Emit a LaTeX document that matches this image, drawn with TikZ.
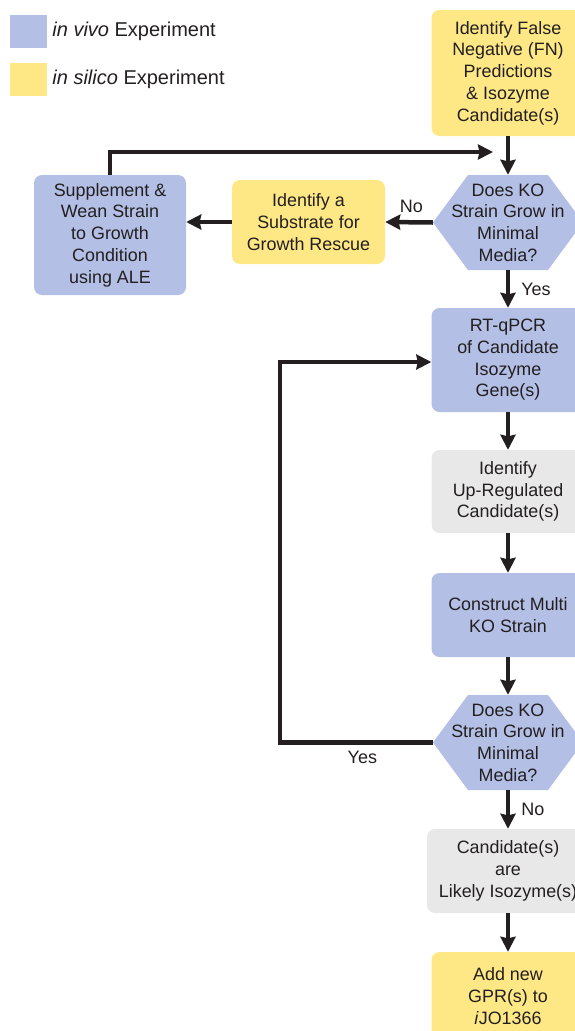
\documentclass[tikz,border=0pt]{standalone}
\usepackage{fontspec}
\setmainfont{Liberation Sans}
\usetikzlibrary{arrows.meta,positioning}

\definecolor{vivoblue}{RGB}{179,191,228}
\definecolor{silicoyellow}{RGB}{254,232,133}
\definecolor{plaingray}{RGB}{232,232,232}
\definecolor{inkgray}{RGB}{35,31,32}

\begin{document}
\begin{tikzpicture}[
      x=1pt, y=-1pt,
      box/.style={rounded corners=8pt, minimum width=153pt, align=center, inner sep=0pt,
                  text=inkgray, font=\fontsize{17.9}{21.7}\selectfont},
      vivo/.style={box, fill=vivoblue},
      silico/.style={box, fill=silicoyellow},
      plain/.style={box, fill=plaingray},
      question/.style={minimum width=150pt, minimum height=95pt, align=center, inner sep=0pt,
                  text=inkgray, font=\fontsize{17.9}{21.7}\selectfont},
      key/.style={minimum width=37pt, minimum height=33pt, inner sep=0pt},
      keytext/.style={inner sep=0pt, text=inkgray, font=\fontsize{20}{24}\selectfont},
      answer/.style={text=inkgray, font=\fontsize{18}{22}\selectfont},
      flow/.style={line width=4.5pt, draw=inkgray, line join=miter,
                   -{Stealth[inset=1.5pt, length=15pt, width=15pt]}}
    ]

    \useasboundingbox (0,0) rectangle (575,1031);
    \clip (0,0) rectangle (575,1031);

    % ---- column positions ----
    \def\xr{508}
    \def\hw{75}
    \def\hh{47.5}
    \def\hc{35}

    % ================= legend =================
    \node[key, fill=vivoblue] (keyvivo) at (28.5,31.5) {};
    \node[key, fill=silicoyellow] (keysilico) at (28.5,79) {};
    \node[keytext, right=5pt of keyvivo] {\textit{in vivo} Experiment};
    \node[keytext, right=5pt of keysilico] {\textit{in silico} Experiment};

    % ================= right column =================
    \node[silico, minimum height=126pt] (falseneg) at (\xr,73)
      {Identify False\\Negative (FN)\\Predictions\\\& Isozyme\\Candidate(s)};

    % first growth question (hexagon)
    \fill[vivoblue] (\xr-\hw,222.5) -- (\xr-\hw+\hc,222.5-\hh) -- (\xr+\hw-\hc,222.5-\hh)
      -- (\xr+\hw,222.5) -- (\xr+\hw-\hc,222.5+\hh) -- (\xr-\hw+\hc,222.5+\hh) -- cycle;
    \node[question] (growA) at (\xr,222.5) {Does KO\\Strain Grow in\\Minimal\\Media?};

    \node[vivo, minimum height=104pt] (rtqpcr) at (\xr,360)
      {RT-qPCR\\of Candidate\\Isozyme\\Gene(s)};
    \node[plain, minimum height=83pt] (upreg) at (\xr,491.5)
      {Identify\\Up-Regulated\\Candidate(s)};
    \node[vivo, minimum height=84pt] (multiko) at (\xr,615)
      {Construct Multi\\KO Strain};

    % second growth question (hexagon)
    \fill[vivoblue] (\xr-\hw,742.5) -- (\xr-\hw+\hc,742.5-\hh) -- (\xr+\hw-\hc,742.5-\hh)
      -- (\xr+\hw,742.5) -- (\xr+\hw-\hc,742.5+\hh) -- (\xr-\hw+\hc,742.5+\hh) -- cycle;
    \node[question] (growB) at (\xr,742.5) {Does KO\\Strain Grow in\\Minimal\\Media?};

    \node[plain, minimum width=162pt, minimum height=84pt] (likely) at (\xr,871)
      {Candidate(s)\\are\\Likely Isozyme(s)};
    \node[silico, minimum height=88pt] (addgpr) at (\xr,996)
      {Add new\\GPR(s) to\\\textit{i}JO1366};

    % ================= left side: growth rescue =================
    \node[silico, minimum height=84pt] (substrate) at (308.5,222)
      {Identify a\\Substrate for\\Growth Rescue};
    \node[vivo, minimum width=152pt, minimum height=120pt] (wean) at (110,235)
      {Supplement \&\\Wean Strain\\to Growth\\Condition\\using ALE};

    % ================= connectors =================
    \coordinate (rejoin) at (493,152);

    \draw[flow] (falseneg) -- (growA);
    \draw[flow] (growA.west) -- node[answer, above, pos=0.45, inner sep=7pt] {No} (substrate.east);
    \draw[flow] (substrate.west) -- (wean.east |- substrate.west);
    \draw[flow] (wean.north) |- (rejoin);
    \draw[flow] (growA) -- node[answer, right, inner sep=0pt, xshift=11pt] {Yes} (rtqpcr);
    \draw[flow] (rtqpcr) -- (upreg);
    \draw[flow] (upreg) -- (multiko);
    \draw[flow] (multiko) -- (growB);
    \draw[flow] (growB.west) -- node[answer, below, pos=0.46, inner sep=6pt] {Yes} ++(-153,0)
      |- (rtqpcr.west |- 0,362);
    \draw[flow] (growB) -- node[answer, right, inner sep=0pt, xshift=11pt] {No} (likely);
    \draw[flow] (likely) -- (addgpr);

    \end{tikzpicture}
\end{document}
